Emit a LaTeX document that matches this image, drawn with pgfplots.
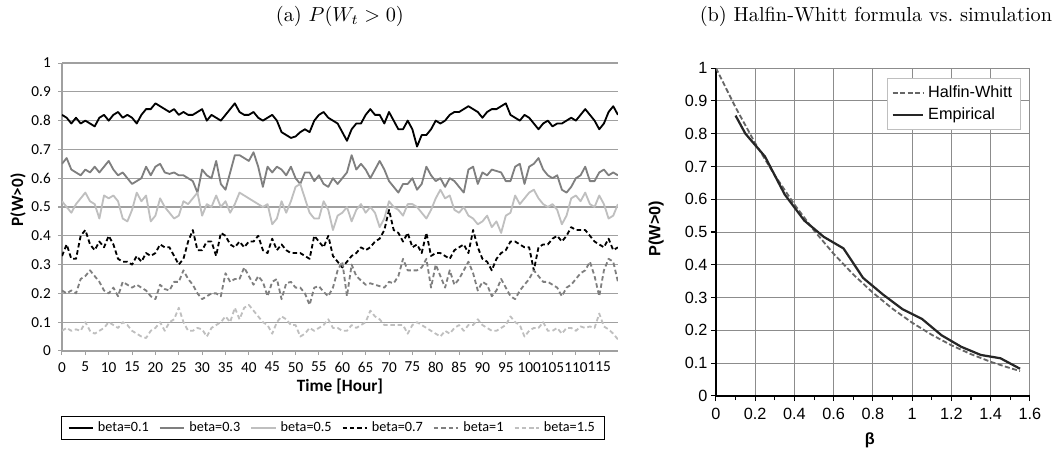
\documentclass[border=0pt]{standalone}
\usepackage{fontspec}
\usepackage{pgfplots}
\usepackage{pgfplotstable}
\pgfplotsset{compat=1.18}
\newfontfamily\carlito{Carlito}
\newfontfamily\arial{Liberation Sans}

\definecolor{midgray}{HTML}{7F7F7F}
\definecolor{pale}{HTML}{BFBFBF}
\definecolor{gridgray}{HTML}{A0A0A0}
\definecolor{rgrid}{HTML}{8C8C8C}

% P(W>0) per hour, one column per beta
\pgfplotstableread{
t b01 b03 b05 b07 b10 b15
0 .82 .65 .52 .33 .21 .07
1 .81 .67 .50 .37 .20 .08
2 .79 .63 .48 .32 .21 .07
3 .81 .62 .51 .32 .20 .075
4 .79 .61 .53 .40 .25 .07
5 .80 .63 .55 .42 .26 .10
6 .79 .62 .52 .37 .28 .07
7 .78 .64 .51 .35 .26 .06
8 .81 .62 .46 .38 .24 .07
9 .82 .64 .54 .36 .21 .08
10 .80 .66 .53 .40 .20 .10
11 .82 .63 .54 .37 .22 .09
12 .83 .61 .52 .32 .19 .08
13 .81 .62 .46 .31 .24 .10
14 .82 .60 .45 .31 .23 .09
15 .81 .58 .49 .30 .22 .07
16 .79 .59 .55 .33 .23 .06
17 .82 .60 .52 .31 .22 .05
18 .84 .64 .54 .34 .21 .045
19 .84 .61 .45 .33 .19 .07
20 .86 .64 .47 .34 .18 .08
21 .85 .65 .53 .37 .23 .10
22 .84 .62 .50 .36 .215 .07
23 .83 .615 .48 .36 .21 .10
24 .84 .62 .46 .33 .24 .11
25 .82 .61 .47 .30 .24 .15
26 .83 .61 .52 .32 .28 .10
27 .82 .60 .51 .38 .25 .07
28 .82 .59 .53 .42 .23 .07
29 .83 .55 .55 .35 .20 .08
30 .84 .63 .47 .35 .18 .075
31 .80 .61 .51 .38 .19 .05
32 .82 .60 .50 .38 .20 .08
33 .81 .66 .54 .33 .20 .09
34 .80 .58 .50 .41 .19 .10
35 .82 .56 .52 .40 .27 .12
36 .84 .62 .48 .37 .24 .10
37 .86 .68 .51 .36 .25 .15
38 .83 .68 .55 .38 .25 .11
39 .82 .67 .54 .36 .29 .15
40 .82 .66 .53 .38 .26 .16
41 .83 .69 .52 .38 .23 .14
42 .81 .64 .51 .40 .26 .12
43 .80 .57 .50 .35 .24 .10
44 .81 .64 .51 .34 .19 .09
45 .82 .62 .44 .39 .24 .06
46 .80 .64 .46 .35 .25 .10
47 .76 .63 .52 .37 .18 .12
48 .75 .61 .48 .35 .235 .11
49 .74 .64 .52 .34 .24 .09
50 .745 .60 .57 .34 .22 .09
51 .76 .58 .58 .34 .22 .05
52 .77 .62 .53 .33 .20 .06
53 .76 .62 .48 .32 .16 .08
54 .80 .59 .46 .40 .22 .07
55 .82 .61 .46 .38 .225 .08
56 .83 .58 .52 .36 .205 .09
57 .81 .57 .49 .40 .19 .11
58 .80 .60 .42 .33 .22 .08
59 .79 .58 .47 .31 .28 .08
60 .76 .60 .48 .29 .31 .07
61 .73 .62 .50 .31 .19 .07
62 .77 .68 .45 .33 .30 .09
63 .79 .63 .49 .34 .26 .08
64 .79 .65 .51 .36 .245 .09
65 .82 .63 .48 .35 .23 .10
66 .84 .60 .50 .36 .235 .14
67 .82 .63 .48 .38 .23 .12
68 .82 .66 .43 .39 .225 .11
69 .79 .63 .46 .42 .22 .09
70 .83 .59 .52 .49 .24 .09
71 .80 .57 .50 .42 .235 .09
72 .77 .55 .49 .41 .26 .09
73 .77 .58 .47 .38 .32 .09
74 .80 .58 .51 .41 .28 .06
75 .77 .60 .51 .36 .28 .09
76 .71 .56 .50 .37 .28 .10
77 .75 .58 .48 .34 .29 .09
78 .75 .64 .46 .41 .32 .08
79 .77 .61 .49 .33 .22 .07
80 .80 .59 .53 .34 .30 .06
81 .79 .60 .56 .34 .26 .05
82 .80 .57 .53 .33 .22 .07
83 .82 .60 .54 .32 .28 .06
84 .83 .59 .49 .35 .23 .08
85 .83 .57 .48 .36 .25 .09
86 .84 .55 .50 .37 .28 .07
87 .85 .63 .47 .34 .31 .09
88 .84 .64 .46 .42 .27 .09
89 .83 .58 .44 .36 .21 .11
90 .81 .62 .45 .32 .24 .09
91 .83 .61 .47 .31 .23 .08
92 .84 .63 .43 .28 .19 .07
93 .84 .625 .45 .32 .21 .07
94 .85 .62 .41 .34 .25 .08
95 .86 .59 .47 .35 .22 .09
96 .82 .59 .48 .38 .19 .12
97 .81 .64 .54 .38 .18 .10
98 .80 .65 .51 .37 .21 .09
99 .82 .58 .53 .36 .23 .05
100 .81 .64 .55 .36 .25 .07
101 .79 .65 .56 .28 .28 .08
102 .77 .67 .53 .36 .26 .08
103 .79 .63 .51 .37 .24 .10
104 .80 .61 .50 .37 .24 .07
105 .78 .60 .51 .39 .23 .07
106 .79 .61 .49 .40 .22 .08
107 .79 .56 .44 .38 .19 .06
108 .80 .55 .47 .40 .22 .08
109 .81 .57 .53 .43 .23 .08
110 .80 .60 .54 .42 .25 .07
111 .82 .61 .52 .42 .27 .085
112 .84 .64 .55 .42 .28 .08
113 .82 .59 .51 .40 .31 .085
114 .80 .59 .50 .38 .26 .08
115 .77 .62 .54 .37 .19 .13
116 .79 .63 .51 .36 .28 .085
117 .83 .61 .46 .39 .32 .075
118 .85 .62 .47 .35 .31 .06
119 .82 .61 .51 .36 .24 .04
}\waittable

% Halfin-Whitt formula values and simulation
\pgfplotstableread{
beta p
0 1
0.1 .880
0.2 .771
0.3 .673
0.4 .584
0.5 .5045
0.6 .4335
0.7 .3705
0.8 .3148
0.9 .266
1.0 .2234
1.1 .1865
1.2 .1546
1.3 .1274
1.4 .1042
1.5 .0847
1.55 .0762
}\hwtable

\pgfplotstableread{
beta p
0.10 .855
0.15 .80
0.20 .765
0.25 .73
0.35 .615
0.45 .535
0.55 .485
0.65 .45
0.75 .36
0.85 .31
0.95 .265
1.05 .235
1.15 .185
1.25 .15
1.35 .125
1.45 .115
1.55 .083
}\emptable

\begin{document}
\begin{tikzpicture}
\useasboundingbox (0,0) rectangle (519.1pt,222.1pt);
\node[font=\fontsize{10}{12}\selectfont] at (167.4pt,214.2pt) {(a) $P(W_t>0)$};
\node[font=\fontsize{10}{12}\selectfont] at (431.4pt,214.2pt) {(b) Halfin-Whitt formula vs.\ simulation};

\begin{axis}[
  at={(30.53pt,49.25pt)}, anchor=south west,
  scale only axis, width=273.8pt, height=141.8pt,
  xmin=0, xmax=119, ymin=0, ymax=1,
  xtick={0,5,...,115},
  ytick={0,0.1,0.2,0.3,0.4,0.5,0.6,0.7,0.8,0.9,1},
  axis lines=left, axis line style={-, draw=gridgray, line width=0.6pt},
  tick align=outside, major tick length=2pt,
  tick style={draw=gridgray, line width=0.5pt},
  ymajorgrids, grid style={draw=gridgray, line width=0.6pt},
  ticklabel style={font=\carlito\fontsize{7.5}{9}\selectfont},
  /pgf/number format/assume math mode=true,
  xlabel={Time [Hour]}, ylabel={P(W>0)},
  label style={font=\carlito\bfseries\fontsize{8.5}{10}\selectfont},
  xlabel style={at={(axis description cs:0.5,-0.125)}, anchor=center},
  ylabel style={at={(axis description cs:-0.079,0.525)}, anchor=center},
  legend style={at={(0.488,-0.227)}, anchor=north, draw=black, line width=0.5pt,
    font=\carlito\fontsize{7}{8}\selectfont, legend columns=6,
    inner xsep=3pt, inner ysep=0.3pt,
    /tikz/every even column/.append style={column sep=3pt}},
  legend image code/.code={\draw[#1] (0pt,0pt) -- (12pt,0pt);},
  every axis plot/.append style={line width=0.9pt, line join=round},
]
\addplot[black] table[x=t, y=b01] {\waittable};
\addlegendentry{beta=0.1}
\addplot[midgray] table[x=t, y=b03] {\waittable};
\addlegendentry{beta=0.3}
\addplot[pale] table[x=t, y=b05] {\waittable};
\addlegendentry{beta=0.5}
\addplot[black, dash pattern=on 2.2pt off 1.4pt] table[x=t, y=b07] {\waittable};
\addlegendentry{beta=0.7}
\addplot[midgray, dash pattern=on 2.2pt off 1.4pt] table[x=t, y=b10] {\waittable};
\addlegendentry{beta=1}
\addplot[pale, dash pattern=on 2.2pt off 1.4pt] table[x=t, y=b15] {\waittable};
\addlegendentry{beta=1.5}
\end{axis}

\begin{axis}[
  at={(352.6pt,27.09pt)}, anchor=south west,
  scale only axis, width=154.6pt, height=161.5pt,
  xmin=0, xmax=1.6, ymin=0, ymax=1,
  xtick={0,0.2,0.4,0.6,0.8,1,1.2,1.4,1.6},
  minor xtick={0.1,0.3,0.5,0.7,0.9,1.1,1.3,1.5},
  ytick={0,0.1,0.2,0.3,0.4,0.5,0.6,0.7,0.8,0.9,1},
  axis lines=left, axis line style={-, draw=black, line width=0.8pt},
  tick align=outside, major tick length=2.5pt, minor tick length=2pt,
  tick style={draw=black, line width=0.5pt},
  grid=major, grid style={draw=rgrid, line width=0.45pt},
  ticklabel style={font=\arial\fontsize{8}{9}\selectfont},
  yticklabel style={xshift=1.8pt},
  /pgf/number format/assume math mode=true,
  xlabel={β}, ylabel={P(W>0)},
  label style={font=\arial\bfseries\fontsize{8}{9}\selectfont},
  xlabel style={at={(axis description cs:0.49,-0.134)}, anchor=center},
  ylabel style={at={(axis description cs:-0.19,0.51)}, anchor=center},
  legend style={at={(0.971,0.9695)}, anchor=north east, draw=pale, line width=0.5pt,
    font=\arial\fontsize{8}{9}\selectfont, row sep=-0.5pt, inner xsep=2pt, inner ysep=1.5pt},
  legend cell align=left,
  legend image code/.code={\draw[#1] (0pt,0pt) -- (15pt,0pt);},
]
\addplot[color=black!60, line width=0.9pt, dash pattern=on 2.5pt off 1.2pt] table[x=beta, y=p] {\hwtable};
\addlegendentry{Halfin-Whitt}
\addplot[color=black!85, line width=1.1pt, line join=round] table[x=beta, y=p] {\emptable};
\addlegendentry{Empirical}
\end{axis}
\end{tikzpicture}
\end{document}
